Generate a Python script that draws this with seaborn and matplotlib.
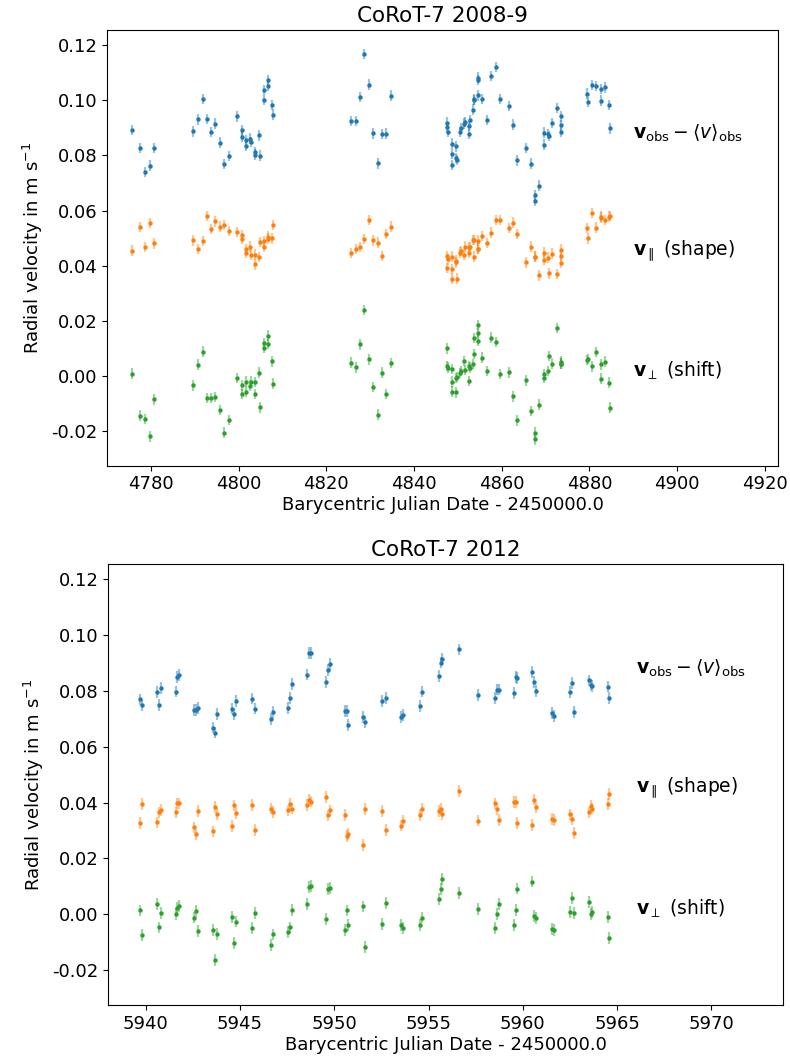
import matplotlib
matplotlib.use("Agg")
import matplotlib.pyplot as plt
import seaborn as sns
import numpy as np

# ---- CoRoT-7 2008-9 season ----
bjd_0809 = [4775.7, 4777.6, 4778.7, 4779.7, 4780.7,
            4789.7, 4790.7, 4791.8, 4792.8, 4793.8, 4794.7, 4795.7, 4796.7, 4797.8,
            4799.7, 4800.7, 4800.8, 4801.7, 4801.8, 4802.7, 4802.8, 4803.7, 4803.8,
            4804.7, 4804.8, 4805.7, 4805.8, 4806.7, 4806.8, 4807.7, 4807.8,
            4825.7, 4826.7, 4827.7, 4828.7, 4829.7, 4830.7, 4831.7, 4832.7, 4833.7, 4834.7,
            4847.6, 4847.6, 4847.7, 4848.6, 4848.6, 4848.7, 4849.6, 4849.6, 4849.7,
            4850.6, 4850.7, 4851.5, 4851.6, 4852.5, 4852.6, 4852.7, 4853.5, 4853.6, 4853.7,
            4854.6, 4854.6, 4854.7, 4855.6, 4856.6, 4857.5, 4858.6, 4859.6, 4861.7,
            4862.6, 4863.6, 4865.6, 4866.6, 4867.5, 4867.6, 4868.5, 4869.6, 4869.6,
            4870.5, 4870.7, 4871.5, 4872.6, 4873.5, 4873.6, 4873.6, 4879.5, 4879.6,
            4880.6, 4881.6, 4882.6, 4882.6, 4883.6, 4884.5, 4884.6]

vobs_0809 = [0.0893, 0.0826, 0.0739, 0.0763, 0.0827,
             0.0887, 0.0931, 0.1005, 0.0933, 0.0884, 0.0915, 0.0846, 0.0769, 0.0797,
             0.0942, 0.0891, 0.0868, 0.0856, 0.0834, 0.0861, 0.0849, 0.0812, 0.0803,
             0.0873, 0.0799, 0.1001, 0.1037, 0.1074, 0.1052, 0.0982, 0.0948,
             0.0925, 0.0925, 0.1011, 0.1168, 0.1057, 0.0880, 0.0771, 0.0877, 0.0879, 0.1017,
             0.0919, 0.0902, 0.0884, 0.0843, 0.0805, 0.0765, 0.0833, 0.0790, 0.0783,
             0.0884, 0.0900, 0.0915, 0.0922, 0.0906, 0.0878, 0.0927, 0.0966, 0.1001, 0.1003,
             0.1074, 0.1018, 0.1082, 0.1004, 0.0929, 0.1088, 0.1120, 0.1004, 0.0979,
             0.0912, 0.0782, 0.0827, 0.0770, 0.0634, 0.0655, 0.0690, 0.0883, 0.0839,
             0.0877, 0.0870, 0.0918, 0.0972, 0.0942, 0.0909, 0.0884, 0.1024, 0.0994,
             0.1055, 0.1052, 0.1041, 0.0999, 0.1047, 0.0982, 0.0898]

vpar_0809 = [0.0455, 0.0540, 0.0468, 0.0554, 0.0481,
             0.0492, 0.0460, 0.0489, 0.0581, 0.0533, 0.0561, 0.0542, 0.0547, 0.0525,
             0.0522, 0.0497, 0.0511, 0.0445, 0.0460, 0.0469, 0.0440, 0.0405, 0.0440,
             0.0431, 0.0485, 0.0469, 0.0490, 0.0498, 0.0505, 0.0499, 0.0547,
             0.0445, 0.0461, 0.0468, 0.0497, 0.0566, 0.0492, 0.0484, 0.0435, 0.0515, 0.0542,
             0.0391, 0.0435, 0.0423, 0.0387, 0.0433, 0.0353, 0.0412, 0.0418, 0.0353,
             0.0447, 0.0453, 0.0440, 0.0469, 0.0445, 0.0467, 0.0467, 0.0493, 0.0433, 0.0493,
             0.0491, 0.0462, 0.0462, 0.0508, 0.0483, 0.0520, 0.0566, 0.0566, 0.0537,
             0.0556, 0.0514, 0.0412, 0.0469, 0.0433, 0.0433, 0.0365, 0.0447, 0.0421,
             0.0429, 0.0372, 0.0444, 0.0370, 0.0458, 0.0435, 0.0409, 0.0537, 0.0499,
             0.0591, 0.0538, 0.0574, 0.0578, 0.0566, 0.0578, 0.0580]

vperp_0809 = [0.0008, -0.0144, -0.0156, -0.0219, -0.0085,
              -0.0034, 0.0041, 0.0088, -0.0080, -0.0080, -0.0076, -0.0124, -0.0206, -0.0160,
              -0.0007, -0.0034, -0.0066, -0.0021, -0.0057, -0.0035, -0.0021, -0.0023, -0.0066,
              0.0012, -0.0114, 0.0103, 0.0119, 0.0146, 0.0115, 0.0053, -0.0028,
              0.0048, 0.0031, 0.0114, 0.0239, 0.0060, -0.0040, -0.0140, 0.0012, -0.0066, 0.0047,
              0.0100, 0.0036, 0.0030, 0.0025, -0.0057, -0.0021, -0.0007, -0.0060, -0.0003,
              0.0010, 0.0018, 0.0054, 0.0022, 0.0036, -0.0019, 0.0030, 0.0044, 0.0138, 0.0080,
              0.0155, 0.0128, 0.0185, 0.0066, 0.0017, 0.0139, 0.0123, 0.0007, 0.0013,
              -0.0074, -0.0161, -0.0016, -0.0128, -0.0230, -0.0206, -0.0104, 0.0007, -0.0008,
              0.0018, 0.0073, 0.0045, 0.0173, 0.0052, 0.0045, 0.0045, 0.0057, 0.0062,
              0.0035, 0.0086, 0.0042, -0.0010, 0.0052, -0.0024, -0.0115]

# ---- CoRoT-7 2012 season ----
bjd_2012 = [5939.71, 5939.78, 5940.59, 5940.70, 5940.80, 5941.58, 5941.67, 5941.77,
            5942.58, 5942.67, 5942.79, 5943.57, 5943.67, 5943.78, 5944.59, 5944.68, 5944.78,
            5945.66, 5945.77, 5946.67, 5946.77, 5947.55, 5947.65, 5947.76, 5948.55, 5948.66,
            5948.76, 5949.56, 5949.66, 5949.75, 5950.56, 5950.65, 5950.75, 5951.55, 5951.65,
            5952.55, 5952.77, 5953.54, 5953.66, 5954.54, 5954.63, 5955.55, 5955.64, 5955.72,
            5956.60, 5957.63, 5958.54, 5958.63, 5958.72, 5959.53, 5959.62, 5959.70, 5960.51,
            5960.62, 5960.69, 5961.54, 5961.68, 5962.50, 5962.59, 5962.70, 5963.53, 5963.61,
            5963.67, 5964.53, 5964.58]

vobs_2012 = [0.0770, 0.0749, 0.0797, 0.0751, 0.0810, 0.0798, 0.0850, 0.0857,
             0.0731, 0.0731, 0.0738, 0.0669, 0.0651, 0.0718, 0.0737, 0.0718, 0.0764,
             0.0773, 0.0737, 0.0699, 0.0725, 0.0738, 0.0776, 0.0824, 0.0859, 0.0937,
             0.0935, 0.0831, 0.0875, 0.0898, 0.0729, 0.0729, 0.0677, 0.0707, 0.0690,
             0.0764, 0.0774, 0.0707, 0.0714, 0.0746, 0.0798, 0.0854, 0.0902, 0.0916,
             0.0949, 0.0785, 0.0776, 0.0805, 0.0805, 0.0794, 0.0850, 0.0847, 0.0867,
             0.0832, 0.0800, 0.0720, 0.0711, 0.0797, 0.0829, 0.0725, 0.0838, 0.0823,
             0.0818, 0.0816, 0.0775]

vpar_2012 = [0.0327, 0.0394, 0.0329, 0.0365, 0.0374, 0.0365, 0.0397, 0.0397,
             0.0311, 0.0286, 0.0369, 0.0297, 0.0385, 0.0359, 0.0317, 0.0390, 0.0362,
             0.0392, 0.0303, 0.0379, 0.0366, 0.0372, 0.0394, 0.0379, 0.0391, 0.0411,
             0.0404, 0.0419, 0.0354, 0.0372, 0.0355, 0.0281, 0.0288, 0.0248, 0.0378,
             0.0369, 0.0302, 0.0318, 0.0333, 0.0356, 0.0379, 0.0370, 0.0379, 0.0359,
             0.0442, 0.0336, 0.0397, 0.0378, 0.0339, 0.0403, 0.0403, 0.0327, 0.0321,
             0.0411, 0.0383, 0.0342, 0.0337, 0.0358, 0.0341, 0.0290, 0.0365, 0.0387,
             0.0379, 0.0394, 0.0430]

vperp_2012 = [0.0014, -0.0074, 0.0036, -0.0047, 0.0004, 0.0001, 0.0023, 0.0030,
              -0.0012, 0.0013, -0.0061, -0.0057, -0.0165, -0.0070, -0.0011, -0.0103, -0.0026,
              -0.0048, 0.0005, -0.0111, -0.0072, -0.0063, -0.0047, 0.0015, 0.0037, 0.0097,
              0.0101, -0.0018, 0.0091, 0.0095, -0.0057, 0.0014, -0.0039, 0.0028, -0.0118,
              -0.0035, 0.0040, -0.0039, -0.0048, -0.0039, -0.0012, 0.0055, 0.0091, 0.0127,
              0.0076, 0.0018, -0.0050, 0.0001, 0.0036, -0.0038, 0.0015, 0.0092, 0.0117,
              -0.0007, -0.0013, -0.0052, -0.0057, 0.0007, 0.0058, 0.0005, 0.0045, 0.0000,
              0.0009, -0.0009, -0.0086]

err_0809 = 0.0019
err_2012 = 0.0021

series_labels = [r"$\mathbf{v}_\mathrm{obs} - \langle v\rangle_\mathrm{obs}$",
                 r"$\mathbf{v}_\parallel$ (shape)",
                 r"$\mathbf{v}_\perp$ (shift)"]
label_y = [0.088, 0.045, 0.002]
colors = ["#1f77b4", "#ff7f0e", "#2ca02c"]

sns.set_style("white")
plt.rcParams["font.family"] = ["DejaVu Sans"]
plt.rcParams["mathtext.fontset"] = "dejavusans"
for key in ("text.color", "axes.labelcolor", "xtick.color", "ytick.color", "axes.edgecolor"):
    plt.rcParams[key] = "black"

W, H = 790, 1061
fig = plt.figure(figsize=(W / 100, H / 100), dpi=100)


def px_axes(left, right, top, bottom):
    return fig.add_axes([left / W, 1 - bottom / H, (right - left) / W, (bottom - top) / H])


panels = [
    dict(ax=px_axes(107, 778, 30, 465.5), t=bjd_0809,
         vals=[vobs_0809, vpar_0809, vperp_0809], err=err_0809,
         title="CoRoT-7 2008-9", xlim=(4770, 4923), xticks=np.arange(4780, 4921, 20), tx=4890.0),
    dict(ax=px_axes(108, 783, 564, 1005), t=bjd_2012,
         vals=[vobs_2012, vpar_2012, vperp_2012], err=err_2012,
         title="CoRoT-7 2012", xlim=(5938.0, 5973.8), xticks=np.arange(5940, 5971, 5), tx=5966.0),
]

for p in panels:
    ax = p["ax"]
    for vals, col in zip(p["vals"], colors):
        ax.errorbar(p["t"], vals, yerr=p["err"], fmt="none", ecolor=col,
                    elinewidth=1.6, alpha=0.45, zorder=2)
        sns.scatterplot(x=p["t"], y=vals, color=col, s=10, linewidth=0,
                        ax=ax, zorder=3, legend=False)
    for lab, yy in zip(series_labels, label_y):
        ax.text(p["tx"], yy, lab, fontsize=13.5, va="center", ha="left", color="black")
    ax.set_xlim(*p["xlim"])
    ax.set_ylim(-0.0325, 0.1255)
    ax.set_xticks(p["xticks"])
    ax.set_yticks(np.arange(-0.02, 0.1201, 0.02))
    ax.set_yticklabels([f"{v:.2f}" for v in np.arange(-0.02, 0.1201, 0.02)])
    ax.tick_params(axis="both", labelsize=13, direction="out", length=3.5, width=0.8,
                   left=True, bottom=True, colors="black")
    for s in ax.spines.values():
        s.set_visible(True)
        s.set_color("black")
        s.set_linewidth(0.8)
    ax.set_title(p["title"], fontsize=15.5, pad=6, color="black")
    ax.set_xlabel("Barycentric Julian Date - 2450000.0", fontsize=13, labelpad=2)
    ax.set_ylabel(r"Radial velocity in m s$^{-1}$", fontsize=13)

fig.savefig("out.png", dpi=100)
